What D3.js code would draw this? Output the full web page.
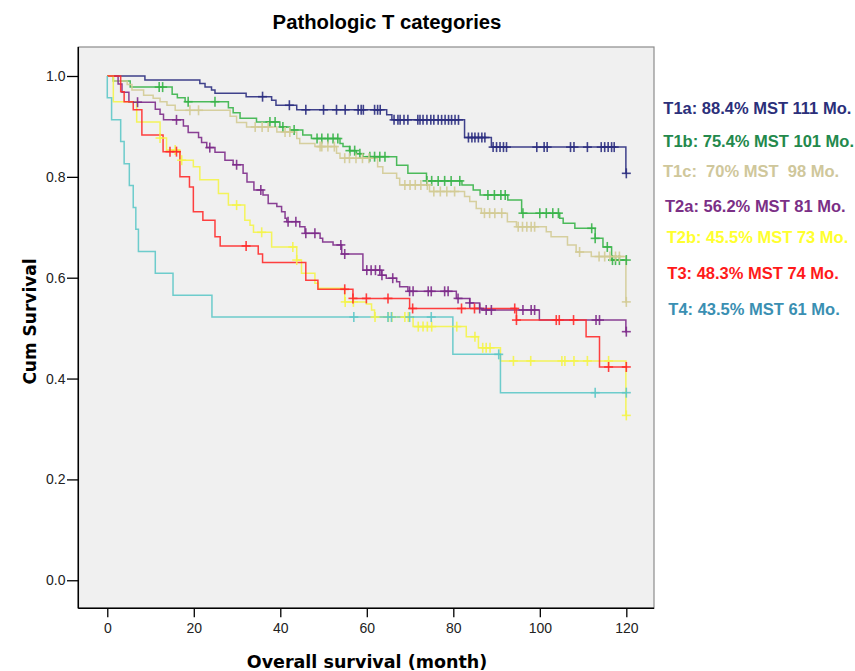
<!DOCTYPE html>
<html>
<head>
<meta charset="utf-8">
<script src="https://cdn.jsdelivr.net/npm/d3@7"></script>
<style>
  html, body { margin: 0; padding: 0; background: #ffffff; }
  svg { display: block; }
  text { white-space: pre; }
</style>
</head>
<body>
<svg id="chart" width="855" height="671"></svg>
<script>
// Kaplan–Meier survival by pathologic T category
const groups = ["T1a", "T1b", "T1c", "T2a", "T2b", "T3", "T4"];
const legendLabels = [
  "T1a: 88.4% MST 111 Mo.",
  "T1b: 75.4% MST 101 Mo.",
  "T1c:  70% MST  98 Mo.",
  "T2a: 56.2% MST 81 Mo.",
  "T2b: 45.5% MST 73 Mo.",
  "T3: 48.3% MST 74 Mo.",
  "T4: 43.5% MST 61 Mo."
];
const xTicks = [0, 20, 40, 60, 80, 100, 120];
const yTicks = [0.0, 0.2, 0.4, 0.6, 0.8, 1.0];
const followUpEnd = 120;

// event steps: [month, cumulative survival after the event]
const t1aSteps = [[8.7,0.992],[21.4,0.985],[22.6,0.978],[24.1,0.972],[24.9,0.966],[32.1,0.959],[38,0.952],[39,0.942],[43.8,0.933],[64.6,0.923],[65.8,0.913],[82.6,0.878],[88.8,0.859],[119.9,0.807]];
const t1bSteps = [[1.4,0.990],[5.3,0.978],[15,0.964],[16.2,0.957],[18,0.949],[28,0.937],[29.1,0.927],[30.7,0.916],[34.5,0.909],[39.9,0.899],[42.2,0.893],[45.2,0.883],[47.2,0.876],[53.8,0.866],[54.5,0.860],[56,0.852],[57.6,0.846],[59.1,0.840],[66.9,0.823],[69.5,0.807],[73.8,0.792],[82,0.784],[84.6,0.774],[86.2,0.764],[92.6,0.754],[95.8,0.728],[104.6,0.718],[105.4,0.708],[108.1,0.698],[112.8,0.678],[114.6,0.661],[116.6,0.635]];
const t1cSteps = [[1.4,0.990],[4.6,0.983],[5.7,0.972],[8.4,0.962],[10.6,0.956],[12.2,0.949],[13.8,0.942],[15.7,0.932],[28.4,0.920],[29.9,0.908],[32.2,0.899],[39.2,0.889],[43.8,0.876],[44.5,0.866],[48,0.860],[53,0.847],[53.8,0.837],[62.5,0.820],[63.7,0.807],[66.9,0.797],[67.6,0.784],[74.5,0.771],[82.6,0.761],[83.8,0.751],[85.3,0.737],[86.5,0.728],[92.5,0.711],[94.6,0.701],[101.5,0.691],[102.6,0.681],[106.4,0.665],[108.4,0.651],[111.9,0.642],[119.9,0.552]];
const t2aSteps = [[2.5,0.984],[3.4,0.968],[5,0.948],[11.1,0.934],[12.2,0.924],[13,0.913],[17.6,0.901],[18.7,0.888],[21.1,0.878],[21.8,0.868],[23,0.858],[24.9,0.849],[27.2,0.833],[29.1,0.824],[31.4,0.807],[32.3,0.790],[33.9,0.774],[36,0.764],[37.2,0.747],[39.2,0.741],[40.3,0.731],[41.1,0.718],[41.5,0.711],[44.5,0.701],[45.7,0.688],[49.2,0.678],[49.8,0.671],[52.2,0.665],[54.2,0.647],[59.1,0.615],[63.4,0.605],[64.5,0.599],[66.9,0.592],[67.6,0.582],[69.5,0.573],[80.7,0.559],[83.8,0.550],[86.1,0.539],[86.5,0.536],[99.9,0.516],[119.9,0.493]];
const t2bSteps = [[1.4,0.949],[6.8,0.909],[12.2,0.877],[13.7,0.853],[16.8,0.833],[19.9,0.820],[21.4,0.794],[25.7,0.767],[28,0.744],[31.8,0.714],[33,0.704],[33.8,0.690],[38,0.661],[43.8,0.635],[44.9,0.609],[48,0.589],[48.8,0.579],[54.9,0.552],[59.9,0.548],[61.1,0.536],[61.8,0.522],[70.7,0.503],[83,0.483],[85.8,0.461],[90.9,0.435],[119.9,0.327]];
const t3Steps = [[3.1,0.969],[3.9,0.949],[6,0.933],[8,0.883],[12.9,0.850],[16.8,0.800],[19,0.780],[19.9,0.731],[22.1,0.714],[24.9,0.681],[26.1,0.663],[34.9,0.647],[35.9,0.630],[45.9,0.595],[48.7,0.577],[56.8,0.559],[69.9,0.539],[94.6,0.516],[110.7,0.483],[113.8,0.423]];
const t4Steps = [[0,0.957],[1,0.913],[3.1,0.870],[3.9,0.826],[5.1,0.783],[6,0.739],[6.6,0.696],[7.2,0.652],[11.1,0.609],[15.2,0.565],[24.2,0.522],[79.9,0.448],[90.9,0.372]];

// censored observations (months)
const t1aCensored = [35.9,42.1,45.9,50,53,55,58,58.7,59.2,61.8,62.5,63.1,66.3,67.2,67.7,68.6,69.5,71.8,72.3,73,73.9,74.8,75.5,76.5,77.3,78.1,78.9,79.6,80.4,81.2,83.5,84.3,85,85.8,86.6,87.3,89.2,90,90.8,91.6,92.3,99.3,101,101.7,107.1,107.9,111,114.2,115,115.8,116.6,117.2,120];
const t1bCensored = [12,12.8,18.7,24.9,37.6,38.8,40.6,43.2,48.5,49.6,51,52.2,53.3,56.1,57.2,58.4,60.7,61.8,63,64.2,73.9,75,76.5,78,79.5,81.5,88,89.5,91,92,96.1,100,101.5,103,104.3,112,112.8,115.6,116.8,117.5,118.4,120];
const t1cCensored = [19.1,21.1,34.2,35.8,37.2,41.1,42.2,49.2,49.6,51,52.5,54.9,56,57.5,59,60.5,68.8,70,71.2,72.5,74,75.5,77,78.5,80.3,87.2,88.4,89.6,91.2,95,96,97,98,98.8,109.2,113.7,115,116.2,117.5,118.4,120];
const t2aCensored = [7,16,23.7,29.9,35.5,41.8,43.6,45.9,48,54,54.9,60,61,62,63,63.5,66,69.9,70.7,74.2,74.9,78,78.8,81.1,83.8,86.1,87.6,88.8,96.1,98,98.8,113,113.8,120];
const t2bCensored = [12.2,15.7,17.2,29.9,35.7,42.9,43.8,55,56.9,61.9,65,65.8,68.8,69.6,71.9,73,74,75,80.8,85,86.8,87.6,88.5,93.9,97.9,105.1,105.8,107.9,111,115.9,120];
const t3Censored = [14.5,16,32.1,54.9,56.8,59.9,64.9,70.6,81.9,84.9,94.2,94.6,103.8,104.5,107.8,115.9,120];
const t4Censored = [57,64.9,65.7,69.9,74.9,90.5,112.8,120];

const stepsByGroup = [t1aSteps, t1bSteps, t1cSteps, t2aSteps, t2bSteps, t3Steps, t4Steps];
const censoredByGroup = [t1aCensored, t1bCensored, t1cCensored, t2aCensored, t2bCensored, t3Censored, t4Censored];

const lineColors = ["#2b2d80", "#38b449", "#d3cb95", "#7d2b8a", "#f4f44a", "#ff2b2b", "#5ec8c8"];
const labelColors = ["#2b2f7a", "#23894c", "#cfc79b", "#7b2f86", "#ffff2e", "#ff1a1a", "#3a8fb2"];

const svg = d3.select("#chart");
const panel = { left: 78.3, right: 654, top: 47, bottom: 608.3 };

const x = d3.scaleLinear().domain([-6.7, 126.4]).range([panel.left, panel.right]);
const y = d3.scaleLinear().domain([-0.0556, 1.0575]).range([panel.bottom, panel.top]);

// plot background and frame
svg.append("rect")
  .attr("x", panel.left).attr("y", panel.top)
  .attr("width", panel.right - panel.left).attr("height", panel.bottom - panel.top)
  .attr("fill", "#f0f0f0").attr("stroke", "#8c8c8c").attr("stroke-width", 1.2);

// title
svg.append("text")
  .attr("x", 387).attr("y", 29)
  .attr("text-anchor", "middle")
  .attr("font-family", "Liberation Sans, Arial, sans-serif")
  .attr("font-weight", "bold").attr("font-size", 20.3)
  .attr("fill", "#000").text("Pathologic T categories");

// axes
const yAxis = d3.axisLeft(y).tickValues(yTicks).tickSize(11.3).tickPadding(1.5).tickFormat(d3.format(".1f"));
const gy = svg.append("g").attr("transform", `translate(${panel.left},0)`).call(yAxis);
gy.select(".domain").remove();
gy.selectAll(".tick line").attr("stroke", "#000").attr("stroke-width", 1.3);
gy.selectAll(".tick text").attr("font-family", "Liberation Sans, Arial, sans-serif").attr("font-size", 14).attr("fill", "#222");

const xAxis = d3.axisBottom(x).tickValues(xTicks).tickSize(9).tickPadding(6).tickFormat(d3.format("d"));
const gx = svg.append("g").attr("transform", `translate(0,${panel.bottom})`).call(xAxis);
gx.select(".domain").remove();
gx.selectAll(".tick line").attr("stroke", "#000").attr("stroke-width", 1.3);
gx.selectAll(".tick text").attr("font-family", "Liberation Sans, Arial, sans-serif").attr("font-size", 14).attr("fill", "#222");

svg.append("line").attr("x1", panel.left).attr("x2", panel.left).attr("y1", panel.top).attr("y2", panel.bottom)
  .attr("stroke", "#000").attr("stroke-width", 1.5);
svg.append("line").attr("x1", panel.left).attr("x2", panel.right).attr("y1", panel.bottom).attr("y2", panel.bottom)
  .attr("stroke", "#000").attr("stroke-width", 1.5);

// axis titles
svg.append("text")
  .attr("transform", "translate(36,321.5) rotate(-90)")
  .attr("text-anchor", "middle")
  .attr("font-family", "DejaVu Sans, sans-serif")
  .attr("font-weight", "bold").attr("font-size", 17)
  .attr("fill", "#000").text("Cum Survival");

svg.append("text")
  .attr("x", 367).attr("y", 668)
  .attr("text-anchor", "middle")
  .attr("font-family", "DejaVu Sans, sans-serif")
  .attr("font-weight", "bold").attr("font-size", 17.5)
  .attr("fill", "#000").text("Overall survival (month)");

// survival curves
const stepLine = d3.line().x(d => x(d[0])).y(d => y(d[1])).curve(d3.curveStepAfter);
const curves = svg.append("g");
const marks = svg.append("g");

function survivalAt(steps, t) {
  let s = 1;
  for (const [te, v] of steps) { if (te <= t) s = v; else break; }
  return s;
}

groups.forEach((g, i) => {
  const steps = stepsByGroup[i];
  const last = steps[steps.length - 1][1];
  const pts = [[0, 1], ...steps, [followUpEnd, last]];
  curves.append("path")
    .attr("d", stepLine(pts))
    .attr("fill", "none")
    .attr("stroke", lineColors[i])
    .attr("stroke-width", 1.5)
    .attr("stroke-opacity", 0.9);

  const cg = marks.append("g").attr("stroke", lineColors[i]).attr("stroke-width", 1.6).attr("stroke-opacity", 0.9);
  censoredByGroup[i].forEach(t => {
    const cx = x(t), cy = y(survivalAt(steps, t));
    cg.append("line").attr("x1", cx).attr("x2", cx).attr("y1", cy - 5).attr("y2", cy + 5);
    cg.append("line").attr("x1", cx - 4.5).attr("x2", cx + 4.5).attr("y1", cy).attr("y2", cy);
  });
});

// legend labels
const legendX = [663.3, 663.3, 663, 665, 666.7, 667.3, 668.3];
const legendY = [114, 146.7, 177.3, 212.3, 242.7, 279.3, 315];
groups.forEach((g, i) => {
  svg.append("text")
    .attr("x", legendX[i]).attr("y", legendY[i])
    .attr("font-family", "Liberation Sans, Arial, sans-serif")
    .attr("font-weight", "bold").attr("font-size", 16.5)
    .attr("fill", labelColors[i])
    .text(legendLabels[i]);
});
</script>
</body>
</html>
